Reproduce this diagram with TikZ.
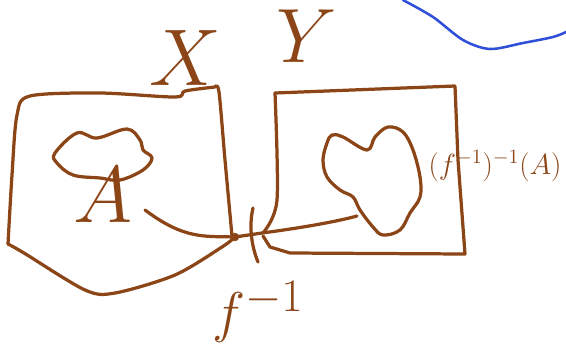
\documentclass[tikz,border=0pt]{standalone}
\usepackage{tikz}
\definecolor{ink}{HTML}{8B4517}
\definecolor{pen}{HTML}{2F4FD8}

\begin{document}
\begin{tikzpicture}[x=0.025cm,y=-0.025cm,line cap=round,line join=round,
    stroke/.style={ink,line width=2.3pt},
    letter/.style={text=ink,inner sep=0pt}]
  \useasboundingbox (0,0) rectangle (566,357);
  % set X (left box)
  \draw[stroke] plot[smooth,tension=0.5] coordinates
        {(8,244) (12,175) (17,115) (30,96) (100,93) (175,97) (185,91) (215,87)};
  \draw[stroke] plot[smooth,tension=0.5] coordinates
        {(215,87) (219,92) (225,160) (232,236)};
  \draw[stroke] plot[smooth,tension=0.5] coordinates
        {(8,244) (24,253) (85,290) (115,293) (175,275) (222,247) (235,237)};
  % set Y (right box)
  \draw[stroke] (275,93) -- (455,86) -- (458,160) -- (465,254)
        -- (290,253) -- (270,247) -- (263,236);
  \draw[stroke] plot[smooth,tension=0.5] coordinates
        {(275,93) (277,200) (263,233)};
  % blob A
  \draw[stroke] plot[smooth cycle,tension=0.6] coordinates
        {(55,153) (77,133) (97,138) (127,129) (140,140) (143,150) (152,158)
         (143,170) (120,180) (100,178) (73,175) (57,163)};
  % heart in Y
  \draw[stroke] plot[smooth cycle,tension=0.6] coordinates
        {(332,135) (343,137) (367,150) (375,137) (388,127) (403,132) (413,150)
         (420,177) (420,197) (410,213) (400,230) (383,235) (373,227) (360,210)
         (353,197) (340,190) (327,177) (323,160) (327,143)};
  % map f^{-1}
  \coordinate (aend) at (145,210);
  \coordinate (junc) at (235,237);
  \coordinate (yend) at (357,216);
  \draw[stroke] (aend) .. controls (185,240) and (205,236) .. (junc);
  \draw[stroke] (junc) -- (262,233) .. controls (300,228) and (335,222) .. (yend);
  \draw[stroke] (253,208) .. controls (249,225) and (251,245) .. (258,262);
  \fill[ink] (junc) circle (3pt);
  % labels
  \node[letter,font=\Huge,scale=2.3] (labx) at (185,58) {$X$};
  \node[letter,font=\Huge,scale=2.2] (laby) at (307,36) {$Y$};
  \node[letter,font=\Huge,scale=2.3] (laba) at (103,195) {$A$};
  \node[letter,font=\Huge,scale=1.6] (labf) at (258,312) {$f^{-1}$};
  \node[letter,font=\LARGE,scale=1.2] (labimg) at (495,166) {$(f^{-1})^{-1}(A)$};
  % blue stroke, top right
  \draw[pen,line width=1.8pt] plot[smooth,tension=0.5] coordinates
        {(403,0) (433,17) (463,40) (490,49) (523,43) (553,37) (566,32)};
\end{tikzpicture}
\end{document}
